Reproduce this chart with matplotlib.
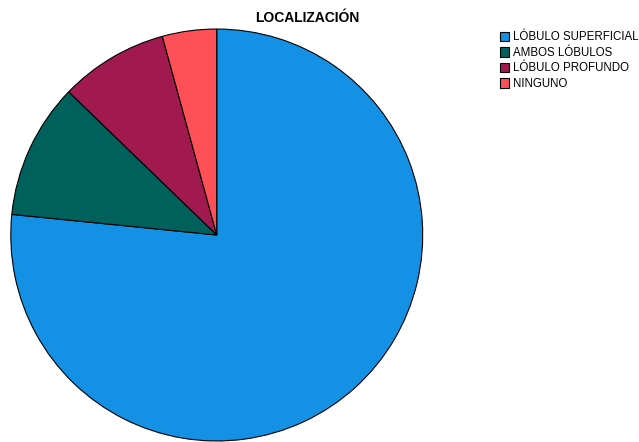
import matplotlib.pyplot as plt

# location counts
categories = ["LÓBULO SUPERFICIAL", "AMBOS LÓBULOS", "LÓBULO PROFUNDO", "NINGUNO"]
counts = [36, 5, 4, 2]
colors = ["#1490E4", "#00605C", "#A0194F", "#FF5058"]

plt.rcParams['font.family'] = ['Liberation Sans', 'DejaVu Sans']

fig = plt.figure(figsize=(6.39, 4.42), dpi=100)
ax = fig.add_axes([0.0167, 0.0023, 0.645, 0.932])
wedges, _ = ax.pie(counts, colors=colors, startangle=90, counterclock=False,
                   wedgeprops=dict(edgecolor="black", linewidth=0.8))
ax.set_xlim(-1, 1)
ax.set_ylim(-1, 1)
ax.set_aspect('equal')

fig.text(0.481, 0.96, "LOCALIZACIÓN", ha="center", va="center",
         fontsize=10, fontweight="bold")

fig.legend(wedges, categories, loc="upper left", bbox_to_anchor=(0.782, 0.929),
           frameon=False, fontsize=8.3, handlelength=0.85, handleheight=0.9,
           handletextpad=0.3, labelspacing=0.3, borderpad=0, borderaxespad=0)

fig.savefig("out.png", dpi=100)
